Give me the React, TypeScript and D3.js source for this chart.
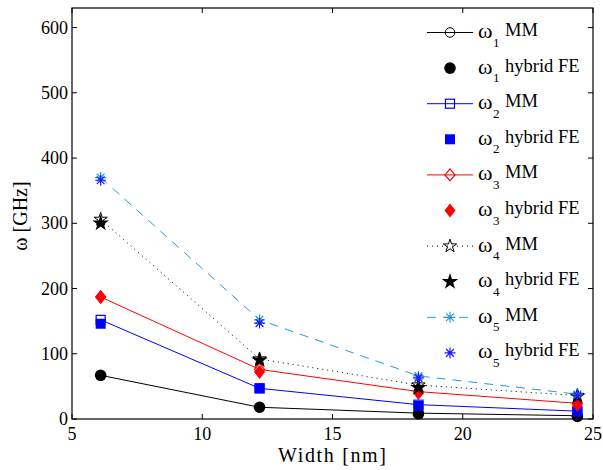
import React from "react";
import * as d3 from "d3";

// widths in nm
const widths = [6.1, 12.2, 18.3, 24.4];

const w1MM = [67, 18, 9, 5];
const w1FE = [67, 18, 8, 4];
const w2MM = [152, 47, 22, 12];
const w2FE = [146, 47, 20, 11];
const w3MM = [187, 76, 42, 24];
const w3FE = [187, 72, 40, 22];
const w4MM = [306, 92, 52, 36];
const w4FE = [300, 90, 48, 35];
const w5MM = [370, 152, 66, 38];
const w5FE = [366, 147, 63, 36];

const xTicks = [5, 10, 15, 20, 25];
const yTicks = [0, 100, 200, 300, 400, 500, 600];

const W = 603;
const H = 470;
const left = 72;
const right = 593;
const top = 8;
const bottom = 419;

const font = "'Liberation Serif', 'Times New Roman', serif";

type Marker = "circle" | "circleFill" | "square" | "squareFill" | "diamond" | "diamondFill" | "star" | "starFill" | "asterisk";

interface Series {
  key: string;
  sub: string;
  label: string;
  values: number[];
  color: string;
  line: boolean;
  dash?: string;
  marker: Marker;
}

const series: Series[] = [
  { key: "w1mm", sub: "1", label: "MM", values: w1MM, color: "#000000", line: true, marker: "circle" },
  { key: "w1fe", sub: "1", label: "hybrid FE", values: w1FE, color: "#000000", line: false, marker: "circleFill" },
  { key: "w2mm", sub: "2", label: "MM", values: w2MM, color: "#0000ff", line: true, marker: "square" },
  { key: "w2fe", sub: "2", label: "hybrid FE", values: w2FE, color: "#0000ff", line: false, marker: "squareFill" },
  { key: "w3mm", sub: "3", label: "MM", values: w3MM, color: "#ff0000", line: true, marker: "diamond" },
  { key: "w3fe", sub: "3", label: "hybrid FE", values: w3FE, color: "#ff0000", line: false, marker: "diamondFill" },
  { key: "w4mm", sub: "4", label: "MM", values: w4MM, color: "#000000", line: true, dash: "1,4", marker: "star" },
  { key: "w4fe", sub: "4", label: "hybrid FE", values: w4FE, color: "#000000", line: false, marker: "starFill" },
  { key: "w5mm", sub: "5", label: "MM", values: w5MM, color: "#2a9ad6", line: true, dash: "9,7", marker: "asterisk" },
  { key: "w5fe", sub: "5", label: "hybrid FE", values: w5FE, color: "#1a1aff", line: false, marker: "asterisk" },
];

function asteriskPath(r: number) {
  const d = r * 0.707;
  return `M${-r},0L${r},0M0,${-r}L0,${r}M${-d},${-d}L${d},${d}M${-d},${d}L${d},${-d}`;
}

function MarkerShape({ type, x, y, color }: { type: Marker; x: number; y: number; color: string }) {
  const t = `translate(${x},${y})`;
  switch (type) {
    case "circle":
      return <circle cx={x} cy={y} r={4.8} fill="none" stroke={color} strokeWidth={1} />;
    case "circleFill":
      return <circle cx={x} cy={y} r={5.8} fill={color} />;
    case "square":
      return <rect x={x - 4.5} y={y - 4.5} width={9} height={9} fill="none" stroke={color} strokeWidth={1.2} />;
    case "squareFill":
      return <rect x={x - 5} y={y - 5} width={10} height={10} fill={color} />;
    case "diamond":
      return <path transform={t} d="M0,-6L5,0L0,6L-5,0Z" fill="none" stroke={color} strokeWidth={1.2} />;
    case "diamondFill":
      return <path transform={t} d="M0,-7L5.5,0L0,7L-5.5,0Z" fill={color} />;
    case "star":
      return <path transform={t} d={d3.symbol(d3.symbolStar, 55)()!} fill="none" stroke={color} strokeWidth={1} />;
    case "starFill":
      return <path transform={t} d={d3.symbol(d3.symbolStar, 85)()!} fill={color} />;
    case "asterisk":
      return <path transform={t} d={asteriskPath(5.5)} fill="none" stroke={color} strokeWidth={1.2} />;
  }
}

export default function App() {
  const x = d3.scaleLinear().domain([5, 25]).range([left, right]);
  const y = d3.scaleLinear().domain([0, 630]).range([bottom, top]);
  const line = d3
    .line<number>()
    .x((_, i) => x(widths[i]))
    .y((d) => y(d));

  const legX0 = 427;
  const legX1 = 473;
  const legMid = 450;
  const legTextX = 478;
  const legY0 = 32.5;
  const legStep = 35.6;

  return (
    <svg width={W} height={H} style={{ position: "absolute", left: 0, top: 0, background: "#fff" }}>
      <rect x={0} y={0} width={W} height={H} fill="#fff" />

      {/* data */}
      {series.map((s) => (
        <g key={s.key}>
          {s.line && (
            <path d={line(s.values)!} fill="none" stroke={s.color} strokeWidth={1} strokeDasharray={s.dash} />
          )}
          {s.values.map((v, i) => (
            <MarkerShape key={i} type={s.marker} x={x(widths[i])} y={y(v)} color={s.color} />
          ))}
        </g>
      ))}

      {/* legend */}
      <rect x={416} y={11} width={174} height={360} fill="#fff" />
      {series.map((s, i) => {
        const ly = legY0 + i * legStep;
        return (
          <g key={"leg" + s.key} fontFamily={font} fill="#000">
            {s.line && (
              <line x1={legX0} x2={legX1} y1={ly} y2={ly} stroke={s.color} strokeWidth={1} strokeDasharray={s.dash} />
            )}
            <MarkerShape type={s.marker} x={legMid} y={ly} color={s.color} />
            <text x={legTextX} y={ly + 5.5} fontSize={22}>
              ω
            </text>
            <text x={legTextX + 15} y={ly + 14} fontSize={13}>
              {s.sub}
            </text>
            <text x={legTextX + 27} y={ly + 3.5} fontSize={18.5}>
              {s.label}
            </text>
          </g>
        );
      })}

      {/* axes box */}
      <rect x={left} y={top} width={right - left} height={bottom - top} fill="none" stroke="#000" strokeWidth={1.2} />
      {xTicks.map((t) => (
        <g key={"x" + t}>
          <line x1={x(t)} x2={x(t)} y1={bottom} y2={bottom - 5} stroke="#000" />
          <line x1={x(t)} x2={x(t)} y1={top} y2={top + 5} stroke="#000" />
          <text x={x(t)} y={bottom + 21} textAnchor="middle" fontFamily={font} fontSize={18}>
            {t}
          </text>
        </g>
      ))}
      {yTicks.map((t) => (
        <g key={"y" + t}>
          <line x1={left} x2={left + 5} y1={y(t)} y2={y(t)} stroke="#000" />
          <line x1={right} x2={right - 5} y1={y(t)} y2={y(t)} stroke="#000" />
          <text x={left - 4} y={y(t) + 6} textAnchor="end" fontFamily={font} fontSize={18}>
            {t}
          </text>
        </g>
      ))}

      <text x={332} y={462} textAnchor="middle" fontFamily={font} fontSize={20} textLength={108} lengthAdjust="spacing">
        Width [nm]
      </text>
      <text transform={`translate(27,216) rotate(-90)`} textAnchor="middle" fontFamily={font} fontSize={20}>
        ω [GHz]
      </text>
    </svg>
  );
}
